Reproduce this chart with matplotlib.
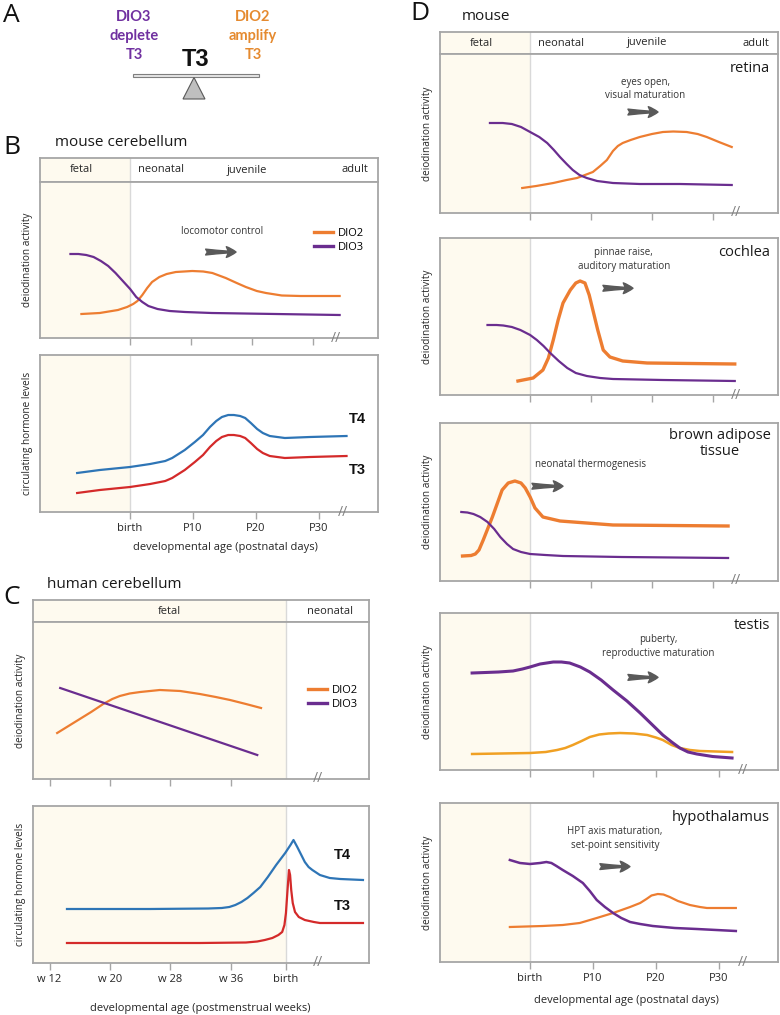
import matplotlib
matplotlib.use("Agg")
import matplotlib.pyplot as plt
from matplotlib.patches import Rectangle, Polygon

plt.rcParams['font.family'] = ['Open Sans', 'DejaVu Sans']

W, H = 780, 1015

ORANGE = '#ED7D31'
PURPLE = '#6A2D8F'
BLUE = '#2E75B6'
RED = '#D42A2A'
GOLD = '#F0A023'
FETAL = '#FEFAEF'
EDGE = '#A6A6A6'
ARROW = '#595959'
TXT = '#262626'

# ---------------- data ----------------
stages_mouse = ['fetal', 'neonatal', 'juvenile', 'adult']
stages_human = ['fetal', 'neonatal']
mouse_ticks = [0, 10, 20, 30]
mouse_ticklabels = ['birth', 'P10', 'P20', 'P30']
human_ticks = [12, 20, 28, 36]
human_birth = 43.3
human_ticklabels = ['w 12', 'w 20', 'w 28', 'w 36', 'birth']

# B  mouse cerebellum, deiodinases (x: postnatal days)
cb_dio2_x = [-8.0, -5.0, -2.0, -0.5, 0.5, 1.2, 2.0, 2.8, 3.6, 4.8, 6.0, 7.5, 10.2, 12.0,
             13.5, 15.7, 17.5, 19.0, 20.8, 22.3, 24.9, 28.0, 34.4]
cb_dio2_y = [24, 25, 28, 31, 34, 37, 43, 50, 56, 61, 64, 66, 67, 66.5,
             65, 60, 55, 51, 47, 45, 42.5, 42, 42]
cb_dio3_x = [-9.8, -8.5, -7.2, -6.0, -4.8, -3.6, -2.4, -1.2, 0, 1.0, 2.0, 3.0, 4.5, 6.5,
             9.0, 13.4, 34.4]
cb_dio3_y = [84, 84, 83, 81, 77, 72, 65, 57, 49, 41, 36, 32, 29, 27, 26, 25, 23]

# B  mouse circulating hormones
mh_x = [-8.4, -4.8, 0, 3.2, 5.6, 6.7, 8.7, 10.3, 11.6, 12.7, 13.7, 14.6, 15.6, 16.5,
        17.5, 18.3, 19.2, 20.2, 21.1, 22.2, 24.6, 28.6, 34.4]
mh_t4 = [39, 42, 45, 48, 51, 54, 62, 70, 77, 85, 91, 95, 97, 97, 96, 94, 89, 83, 79, 76, 74, 75, 76]
mh_t3 = [19, 22, 25, 28, 31, 34, 42, 50, 57, 65, 71, 75, 77, 77, 76, 74, 69, 63, 59, 56, 54, 55, 56]

# C  human cerebellum, deiodinases (x: postmenstrual weeks)
hc_dio2_x = [13.0, 14.5, 16.0, 17.5, 19.1, 20.3, 21.3, 22.6, 24.0, 26.6, 29.3, 31.9,
             34.0, 35.9, 38.0, 40.0]
hc_dio2_y = [46, 53, 60, 67, 75, 80, 83, 85.5, 87, 89, 88, 85, 82, 79, 75, 71]
hc_dio3_x = [13.4, 39.5]
hc_dio3_y = [91, 24]

# C  human circulating hormones
hh_t4_x = [14.3, 25.3, 33.0, 34.8, 35.8, 36.6, 37.4, 38.2, 39.0, 39.9, 40.9, 42.0, 43.2,
           43.9, 44.3, 44.8, 45.4, 45.8, 46.3, 46.8, 47.8, 49.1, 50.5, 53.5]
hh_t4_y = [54, 54, 54.5, 55, 56, 58, 61, 65, 70, 76, 86, 98, 110,
           118, 123, 116, 107, 101, 96, 93, 88, 85, 84, 83]
hh_t3_x = [14.3, 31.9, 38.0, 39.5, 40.5, 41.5, 42.3, 42.8, 43.1, 43.3, 43.5, 43.7,
           43.85, 44.0, 44.2, 44.5, 45.0, 45.8, 47.0, 47.8, 53.5]
hh_t3_y = [20, 20, 20.5, 21.5, 23, 25, 28, 31, 38, 50, 72, 93,
           88, 73, 60, 51, 46, 43, 41, 40, 40]

# D  mouse tissues (x: postnatal days)
ret_dio2_x = [-1.3, 1.0, 3.8, 6.0, 7.7, 9.0, 10.3, 11.5, 12.6, 13.6, 14.4, 15.2, 16.5,
              18.0, 20.0, 21.8, 23.5, 25.7, 27.5, 29.0, 31.0, 33.1]
ret_dio2_y = [25, 27, 30, 33, 35, 38, 41, 47, 53, 62, 67, 70, 73,
              76, 79, 81, 81.5, 81, 79, 76, 71, 66]
ret_dio3_x = [-6.6, -4.5, -3.0, -1.5, 0, 1.5, 2.8, 3.9, 4.9, 6.0, 7.0, 8.1, 9.3, 11.0,
              13.6, 18.0, 24.6, 33.1]
ret_dio3_y = [90, 90, 89, 86, 81, 76, 70, 63, 56, 49, 43, 38, 35, 32, 30, 29, 29, 28]

coc_dio2_x = [-2.0, 0.5, 2.1, 3.0, 3.8, 4.6, 5.4, 6.6, 7.5, 8.2, 9.0, 9.7, 10.3,
              11.1, 12.0, 13.1, 15.2, 19.2, 33.6]
coc_dio2_y = [14, 17, 25, 37, 55, 75, 92, 105, 112, 114, 112, 100, 85, 65, 45, 38, 34, 32, 31]
coc_dio3_x = [-7.0, -5.5, -4.4, -3.0, -1.6, 0, 1.1, 2.2, 3.3, 4.7, 6.1, 7.5, 9.3, 11.5,
              13.6, 21.8, 33.6]
coc_dio3_y = [70, 70, 69.5, 68, 65, 60, 55, 49, 42, 34, 27, 22, 19, 17, 16, 15, 14]

bat_dio2_x = [-11.1, -9.7, -9.0, -8.4, -7.7, -6.2, -4.6, -3.6, -2.5, -1.5, -0.8, 0, 0.8,
              2.1, 4.9, 13.6, 32.5]
bat_dio2_y = [25, 25.5, 27, 31, 41, 64, 91, 98, 100, 98, 93, 84, 73, 64, 60, 56, 55]
bat_dio3_x = [-11.3, -10.3, -9.3, -8.2, -7.0, -5.9, -4.9, -3.8, -2.8, -1.5, 0, 2.5, 5.4,
              15.0, 32.5]
bat_dio3_y = [69, 68.5, 67, 64, 59, 52, 44, 37, 32, 29, 27, 26, 25, 24, 23]

tes_dio2_x = [-9.2, 0, 2.5, 4.3, 5.6, 6.8, 8.2, 9.5, 11.0, 12.5, 14.3, 16.5, 18.6,
              20.0, 21.1, 22.5, 23.8, 25.4, 27.0, 32.1]
tes_dio2_y = [16, 17, 18, 20, 22, 25, 29, 33, 35.5, 36.5, 37, 36.5, 35,
              32.5, 30, 25, 22, 20, 19, 18]
tes_dio3_x = [-9.2, -5.0, -2.7, -1.2, 0, 1.6, 3.7, 5.0, 6.3, 8.0, 9.5, 11.3, 13.2, 15.4,
              17.5, 19.3, 21.1, 22.5, 23.8, 25.1, 26.5, 29.0, 32.1]
tes_dio3_y = [97, 98, 99, 101, 103, 106, 108, 108, 107, 103, 98, 90, 80, 69,
              57, 46, 35, 28, 22, 18, 16, 13.5, 12]

hyp_dio2_x = [-3.2, 2.0, 5.2, 7.9, 10.6, 13.2, 15.9, 17.5, 18.5, 19.3, 20.3, 21.2, 22.2,
              23.5, 25.4, 27.0, 28.1, 32.7]
hyp_dio2_y = [35, 36, 37, 39, 44, 49, 55, 59, 63, 66.5, 68, 67.5, 65,
              61, 57, 55, 54, 54]
hyp_dio3_x = [-3.2, -2.4, -1.6, 0, 1.6, 2.6, 3.4, 4.2, 5.2, 6.8, 8.4, 9.5, 10.6, 11.9,
              13.2, 14.5, 15.9, 17.5, 19.5, 23.0, 26.5, 32.7]
hyp_dio3_y = [102, 100.5, 99, 98, 99, 100, 99, 96, 92, 86, 79, 71, 62, 55,
              49, 44, 40, 38, 36, 34, 33, 31]

mouse_xlim_a = (-14.8, 40.7)
mouse_xlim_b = (-14.3, 39.4)
human_xlim = (9.8, 54.3)
mouse_break = 33.8
human_break = 47.6

fig = plt.figure(figsize=(W / 100, H / 100), dpi=100)


def px_axes(x0, y0, x1, y1):
    return fig.add_axes([x0 / W, 1 - y1 / H, (x1 - x0) / W, (y1 - y0) / H])


def ftext(x, y, s, **kw):
    fig.text(x / W, 1 - y / H, s, va='center', **kw)


def frame(ax):
    for s in ax.spines.values():
        s.set_color(EDGE)
        s.set_linewidth(1.3)


def header(rect, xlim, birth, labels, xs):
    hx = px_axes(*rect)
    hx.set_xlim(xlim)
    hx.axvspan(xlim[0], birth, color=FETAL, lw=0)
    hx.axvline(birth, color='#D9D9D9', lw=1)
    hx.set_xticks([])
    hx.set_yticks([])
    frame(hx)
    for lab, x in zip(labels, xs):
        hx.text(x, 0.5, lab, transform=hx.transAxes, ha='center', va='center',
                fontsize=8, color=TXT)


def panel(rect, xlim, ylim, birth, ticks, brk, ylabel, ticklabels=None):
    ax = px_axes(*rect)
    ax.set_xlim(xlim)
    ax.set_ylim(ylim)
    ax.axvspan(xlim[0], birth, color=FETAL, lw=0, zorder=0)
    ax.axvline(birth, color='#D9D9D9', lw=1, zorder=1)
    frame(ax)
    ax.set_yticks([])
    ax.set_xticks(ticks)
    if ticklabels:
        ax.set_xticklabels(ticklabels)
    else:
        ax.set_xticklabels([])
    ax.tick_params(axis='x', direction='out', length=5, width=1, color=EDGE,
                   pad=3, labelsize=8, labelcolor=TXT)
    ax.text(brk, 0, '//', transform=ax.get_xaxis_transform(), ha='center', va='center',
            fontsize=10, color='#808080', clip_on=False)
    ax.set_ylabel(ylabel, fontsize=7.2, color=TXT, va='center')
    ax.yaxis.set_label_coords(-0.037, 0.5)
    return ax


def note(ax, x, y, s, x0, x1, ya, ha='center'):
    ax.text(x, y, s, transform=ax.transAxes, ha=ha, va='center', fontsize=7,
            color='#333333', linespacing=1.3)
    ax.annotate('', xy=(x1, ya), xytext=(x0, ya), xycoords='axes fraction',
                arrowprops=dict(arrowstyle='fancy,head_length=0.5,head_width=0.55,tail_width=0.3',
                                color=ARROW, mutation_scale=14, shrinkA=0, shrinkB=0))


def tissue(ax, s, y, x=0.976, ha='right'):
    ax.text(x, y, s, transform=ax.transAxes, ha=ha, va='center', fontsize=10.5,
            color='#1A1A1A', linespacing=1.1)


# ---------------- A ----------------
axA = px_axes(100, 0, 290, 110)
axA.set_xlim(0, 190)
axA.set_ylim(110, 0)
axA.axis('off')
axA.add_patch(Rectangle((33, 73.5), 126, 3.5, facecolor='#E6E6E6', edgecolor='#7F7F7F', lw=0.8))
axA.add_patch(Polygon([(94, 77.5), (83, 99), (105, 99)], closed=True,
                      facecolor='#BFBFBF', edgecolor='#595959', lw=0.8))
for txt, y in zip(['DIO3', 'deplete', 'T3'], [17, 36, 55]):
    axA.text(34, y, txt, ha='center', va='center', fontsize=10.5, fontweight='bold',
             color='#7030A0', family=['Lato', 'DejaVu Sans'])
for txt, y in zip(['DIO2', 'amplify', 'T3'], [17, 36, 55]):
    axA.text(153, y, txt, ha='center', va='center', fontsize=10.5, fontweight='bold',
             color='#E58A2F', family=['Lato', 'DejaVu Sans'])
axA.text(96, 59, 'T3', ha='center', va='center', fontsize=17, fontweight='bold',
         color='#111111', family=['Liberation Sans', 'DejaVu Sans'])

for letter, x, y in [('A', 3, 15), ('B', 3, 148), ('C', 3, 598), ('D', 410, 14)]:
    ftext(x, y, letter, fontsize=19, color='#111111')

# ---------------- B ----------------
ftext(55, 143, 'mouse cerebellum', fontsize=11, color='#1A1A1A')
header((40, 158, 378, 182), mouse_xlim_a, 0, stages_mouse, [0.121, 0.358, 0.612, 0.932])
axB1 = panel((40, 182, 378, 338), mouse_xlim_a, (0, 156), 0, mouse_ticks, mouse_break,
             'deiodination activity')
axB1.plot(cb_dio2_x, cb_dio2_y, color=ORANGE, lw=1.6, label='DIO2', zorder=3)
axB1.plot(cb_dio3_x, cb_dio3_y, color=PURPLE, lw=1.6, label='DIO3', zorder=3)
leg = axB1.legend(loc='center left', bbox_to_anchor=(0.81, 0.625), frameon=False, fontsize=8,
                  handlelength=1.7, handletextpad=0.5, labelspacing=0.3, borderpad=0,
                  borderaxespad=0)
for ln in leg.get_lines():
    ln.set_linewidth(2.4)
note(axB1, 0.538, 0.68, 'locomotor control', 0.49, 0.58, 0.551)

axB2 = panel((40, 355, 378, 512), mouse_xlim_b, (0, 157), 0, mouse_ticks, mouse_break,
             'circulating hormone levels', mouse_ticklabels)
axB2.plot(mh_x, mh_t4, color=BLUE, lw=1.6, zorder=3)
axB2.plot(mh_x, mh_t3, color=RED, lw=1.6, zorder=3)
for s, y in [('T4', 0.59), ('T3', 0.27)]:
    axB2.text(0.94, y, s, transform=axB2.transAxes, ha='center', va='center', fontsize=10.5,
              fontweight='bold', family=['Liberation Sans', 'DejaVu Sans'], color='#111111')
axB2.set_xlabel('developmental age (postnatal days)', fontsize=8, color=TXT, va='center')
axB2.xaxis.set_label_coords(0.55, -0.229)

# ---------------- C ----------------
ftext(47, 585, 'human cerebellum', fontsize=11, color='#1A1A1A')
header((33, 600, 369, 622), human_xlim, human_birth, stages_human, [0.405, 0.884])
axC1 = panel((33, 622, 369, 779), human_xlim, (0, 157), human_birth, human_ticks, human_break,
             'deiodination activity')
axC1.plot(hc_dio2_x, hc_dio2_y, color=ORANGE, lw=1.6, label='DIO2', zorder=3)
axC1.plot(hc_dio3_x, hc_dio3_y, color=PURPLE, lw=1.6, label='DIO3', zorder=3)
leg = axC1.legend(loc='center left', bbox_to_anchor=(0.818, 0.52), frameon=False, fontsize=8,
                  handlelength=1.7, handletextpad=0.5, labelspacing=0.3, borderpad=0,
                  borderaxespad=0)
for ln in leg.get_lines():
    ln.set_linewidth(2.4)

axC2 = panel((33, 806, 369, 963), human_xlim, (0, 157), human_birth,
             human_ticks + [human_birth], human_break, 'circulating hormone levels',
             human_ticklabels)
axC2.plot(hh_t4_x, hh_t4_y, color=BLUE, lw=1.6, zorder=3)
axC2.plot(hh_t3_x, hh_t3_y, color=RED, lw=1.6, zorder=3)
for s, y in [('T4', 0.69), ('T3', 0.36)]:
    axC2.text(0.92, y, s, transform=axC2.transAxes, ha='center', va='center', fontsize=10.5,
              fontweight='bold', family=['Liberation Sans', 'DejaVu Sans'], color='#111111')
axC2.set_xlabel('developmental age (postmenstrual weeks)', fontsize=8, color=TXT, va='center')
axC2.xaxis.set_label_coords(0.497, -0.287)

# ---------------- D ----------------
ftext(462, 17, 'mouse', fontsize=11, color='#1A1A1A')
header((440, 32, 778, 54), mouse_xlim_a, 0, stages_mouse, [0.121, 0.358, 0.612, 0.935])

axD1 = panel((440, 54, 778, 213), mouse_xlim_a, (0, 159), 0, mouse_ticks, mouse_break,
             'deiodination activity')
axD1.plot(ret_dio2_x, ret_dio2_y, color=ORANGE, lw=1.6, zorder=3)
axD1.plot(ret_dio3_x, ret_dio3_y, color=PURPLE, lw=1.6, zorder=3)
tissue(axD1, 'retina', 0.91)
note(axD1, 0.607, 0.78, 'eyes open,\nvisual maturation', 0.556, 0.645, 0.635)

axD2 = panel((440, 238, 778, 395), mouse_xlim_a, (0, 157), 0, mouse_ticks, mouse_break,
             'deiodination activity')
axD2.plot(coc_dio2_x, coc_dio2_y, color=ORANGE, lw=2.4, zorder=3)
axD2.plot(coc_dio3_x, coc_dio3_y, color=PURPLE, lw=1.6, zorder=3)
tissue(axD2, 'cochlea', 0.91)
note(axD2, 0.544, 0.863, 'pinnae raise,\nauditory maturation', 0.482, 0.571, 0.68)

axD3 = panel((440, 423, 778, 581), mouse_xlim_a, (0, 158), 0, mouse_ticks, mouse_break,
             'deiodination activity')
axD3.plot(bat_dio2_x, bat_dio2_y, color=ORANGE, lw=2.4, zorder=3)
axD3.plot(bat_dio3_x, bat_dio3_y, color=PURPLE, lw=1.6, zorder=3)
tissue(axD3, 'brown adipose\ntissue', 0.873, x=0.828, ha='center')
note(axD3, 0.281, 0.74, 'neonatal thermogenesis', 0.272, 0.364, 0.60, ha='left')

axD4 = panel((440, 613, 778, 770), mouse_xlim_b, (0, 157), 0, mouse_ticks, mouse_break,
             'deiodination activity')
axD4.plot(tes_dio2_x, tes_dio2_y, color=GOLD, lw=1.8, zorder=3)
axD4.plot(tes_dio3_x, tes_dio3_y, color=PURPLE, lw=2.2, zorder=3)
tissue(axD4, 'testis', 0.92)
note(axD4, 0.645, 0.787, 'puberty,\nreproductive maturation', 0.556, 0.645, 0.59)

axD5 = panel((440, 803, 778, 962), mouse_xlim_b, (0, 159), 0, mouse_ticks, mouse_break,
             'deiodination activity', mouse_ticklabels)
axD5.plot(hyp_dio2_x, hyp_dio2_y, color=ORANGE, lw=1.6, zorder=3)
axD5.plot(hyp_dio3_x, hyp_dio3_y, color=PURPLE, lw=1.8, zorder=3)
tissue(axD5, 'hypothalamus', 0.91)
note(axD5, 0.518, 0.777, 'HPT axis maturation,\nset-point sensitivity', 0.473, 0.562, 0.60)
axD5.set_xlabel('developmental age (postnatal days)', fontsize=8, color=TXT, va='center')
axD5.xaxis.set_label_coords(0.553, -0.245)

fig.savefig('out.png', dpi=100)
